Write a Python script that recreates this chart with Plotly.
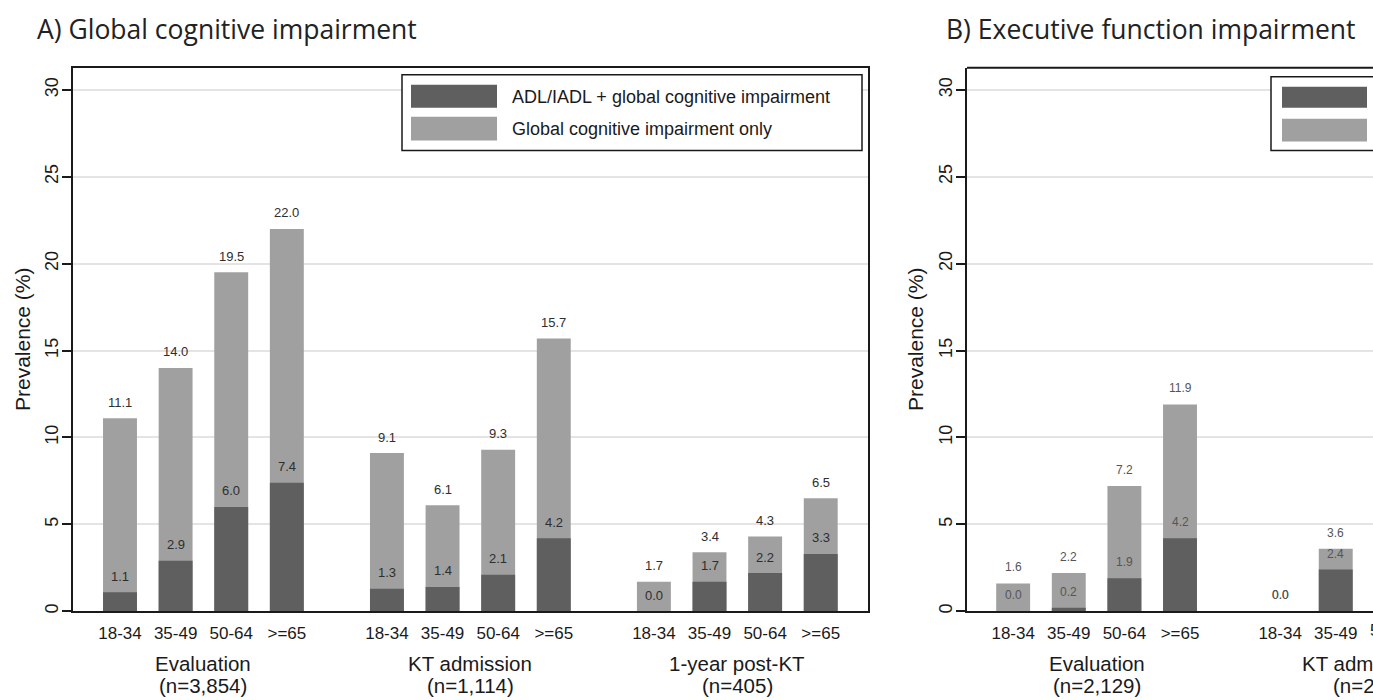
import plotly.graph_objects as go

W, H = 1373, 700

# ---------------- data ----------------
age_groups = ["18-34", "35-49", "50-64", ">=65"]

a_groups = ["Evaluation", "KT admission", "1-year post-KT"]
a_group_n = ["(n=3,854)", "(n=1,114)", "(n=405)"]
a_total = [[11.1, 14.0, 19.5, 22.0], [9.1, 6.1, 9.3, 15.7], [1.7, 3.4, 4.3, 6.5]]
a_adl = [[1.1, 2.9, 6.0, 7.4], [1.3, 1.4, 2.1, 4.2], [0.0, 1.7, 2.2, 3.3]]

# panel B is cut off at the right edge of the picture: only visible bars are listed
b_groups = ["Evaluation", "KT admission"]
b_group_n = ["(n=2,129)", "(n=2"]
b_total = [[1.6, 2.2, 7.2, 11.9], [0.0, 3.6]]
b_adl = [[0.0, 0.2, 1.9, 4.2], [0.0, 2.4]]

series_names = ["ADL/IADL + global cognitive impairment", "Global cognitive impairment only"]
y_ticks = [0, 5, 10, 15, 20, 25, 30]

DARK = "#5f5f5f"
LIGHT = "#a0a0a0"
GROUP_STEP = 4.8
FONT = "Liberation Sans, Arial"


def px(x):
    return x / W


def py(y):
    return 1 - y / H


fig = go.Figure()
annotations = []
shapes = []


def txt(x, y, text, size, xref="paper", yref="paper", xanchor="center", color="#1a1a1a",
        family=FONT, **kw):
    d = dict(x=x, y=y, xref=xref, yref=yref, text=text, showarrow=False, xanchor=xanchor,
             yanchor="middle", font=dict(size=size, color=color, family=family))
    d.update(kw)
    annotations.append(d)


def add_panel(totals, adls, groups, group_n, xa, ya, lab_size, lab_color):
    xs, ticks, tot_flat, adl_flat = [], [], [], []
    for g, (tv, av) in enumerate(zip(totals, adls)):
        for i, (t, a) in enumerate(zip(tv, av)):
            xs.append(g * GROUP_STEP + i)
            ticks.append(age_groups[i])
            tot_flat.append(t)
            adl_flat.append(a)
    fig.add_trace(go.Bar(x=xs, y=tot_flat, marker=dict(color=LIGHT, line=dict(width=0)),
                         width=0.61, xaxis=xa, yaxis=ya, showlegend=False, name=series_names[1]))
    fig.add_trace(go.Bar(x=xs, y=adl_flat, marker=dict(color=DARK, line=dict(width=0)),
                         width=0.61, xaxis=xa, yaxis=ya, showlegend=False, name=series_names[0]))
    for x, t, a in zip(xs, tot_flat, adl_flat):
        for v in (t, a):
            txt(x, v, f"{v:.1f}", lab_size, xref=xa, yref=ya, color=lab_color, yshift=16)
    for g, (name, n) in enumerate(zip(groups, group_n)):
        cx = g * GROUP_STEP + 1.5
        txt(cx, py(665), name, 20.5, xref=xa)
        if n.endswith(")"):
            txt(cx, py(687), n, 20.5, xref=xa)
    return xs, ticks


xs_a, ticks_a = add_panel(a_total, a_adl, a_groups, a_group_n, "x", "y", 13, "#2e2e2e")
xs_b, ticks_b = add_panel(b_total, b_adl, b_groups, b_group_n, "x2", "y2", 12, "#555555")

# partially visible texts at the cut edge of panel B
txt(px(1331), py(687), b_group_n[1], 20.5, xanchor="left")
txt(px(1392), py(632), age_groups[2], 17)

# titles
txt(px(35), py(29), "A) Global cognitive impairment", 26.5, xanchor="left", color="#222222",
    family="Open Sans")
txt(px(944), py(29), "B) Executive function impairment", 26.5, xanchor="left", color="#222222",
    family="Open Sans")
for xx in (22, 915):
    txt(px(xx), py(340), "Prevalence (%)", 21, textangle=-90)

# legend panel A
shapes.append(dict(type="rect", xref="paper", yref="paper", x0=px(402), x1=px(862), y0=py(75), y1=py(151),
                   line=dict(color="#1a1a1a", width=1.5), fillcolor="white", layer="above"))
shapes.append(dict(type="rect", xref="paper", yref="paper", x0=px(411), x1=px(497), y0=py(85), y1=py(108),
                   line=dict(width=0), fillcolor=DARK, layer="above"))
shapes.append(dict(type="rect", xref="paper", yref="paper", x0=px(411), x1=px(497), y0=py(117), y1=py(141),
                   line=dict(width=0), fillcolor=LIGHT, layer="above"))
txt(px(510), py(97), series_names[0], 18, xanchor="left")
txt(px(510), py(129), series_names[1], 18, xanchor="left")

# legend panel B (cut off)
shapes.append(dict(type="rect", xref="paper", yref="paper", x0=px(1271), x1=px(1731), y0=py(77), y1=py(151),
                   line=dict(color="#1a1a1a", width=1.5), fillcolor="white", layer="above"))
shapes.append(dict(type="rect", xref="paper", yref="paper", x0=px(1282), x1=px(1367), y0=py(87), y1=py(108),
                   line=dict(width=0), fillcolor=DARK, layer="above"))
shapes.append(dict(type="rect", xref="paper", yref="paper", x0=px(1282), x1=px(1367), y0=py(119), y1=py(142),
                   line=dict(width=0), fillcolor=LIGHT, layer="above"))

# top frame line of panel B
shapes.append(dict(type="line", xref="x2 domain", yref="y2 domain", x0=0, x1=1, y0=1, y1=1,
                   line=dict(color="#1a1a1a", width=2)))

tickfont_x = dict(size=17, color="#1a1a1a", family=FONT)
tickfont_y = dict(size=18, color="#1a1a1a", family=FONT)

common_x = dict(tickmode="array", ticks="", showgrid=False, zeroline=False, showline=True,
                linecolor="#1a1a1a", linewidth=2, tickfont=tickfont_x, ticklabelstandoff=5)
common_y = dict(range=[0, 31.27], tickmode="array", tickvals=y_ticks, ticks="outside", ticklen=9,
                tickwidth=1.5, tickcolor="#1a1a1a", tickangle=-90, tickfont=tickfont_y,
                showgrid=True, gridcolor="#e4e4e4", gridwidth=2, zeroline=False, showline=True,
                linecolor="#1a1a1a", linewidth=2, ticklabelstandoff=-3)

fig.update_layout(
    width=W, height=H, margin=dict(l=0, r=0, t=0, b=0),
    paper_bgcolor="white", plot_bgcolor="white", barmode="overlay", showlegend=False,
    xaxis=dict(domain=[px(73), px(868)], range=[-0.845, 13.45], tickvals=xs_a, ticktext=ticks_a,
               mirror=True, anchor="y", **common_x),
    yaxis=dict(domain=[py(613), py(68)], mirror=True, anchor="x", **common_y),
    xaxis2=dict(domain=[px(967), 1.0], range=[-0.83, 6.47], tickvals=xs_b, ticktext=ticks_b,
                anchor="y2", **common_x),
    yaxis2=dict(domain=[py(613), py(68)], anchor="x2", **common_y),
    annotations=annotations, shapes=shapes,
)

fig.write_html("out.html", config={"displayModeBar": False},
               post_script="document.body.style.margin='0';document.body.style.overflow='hidden';")
